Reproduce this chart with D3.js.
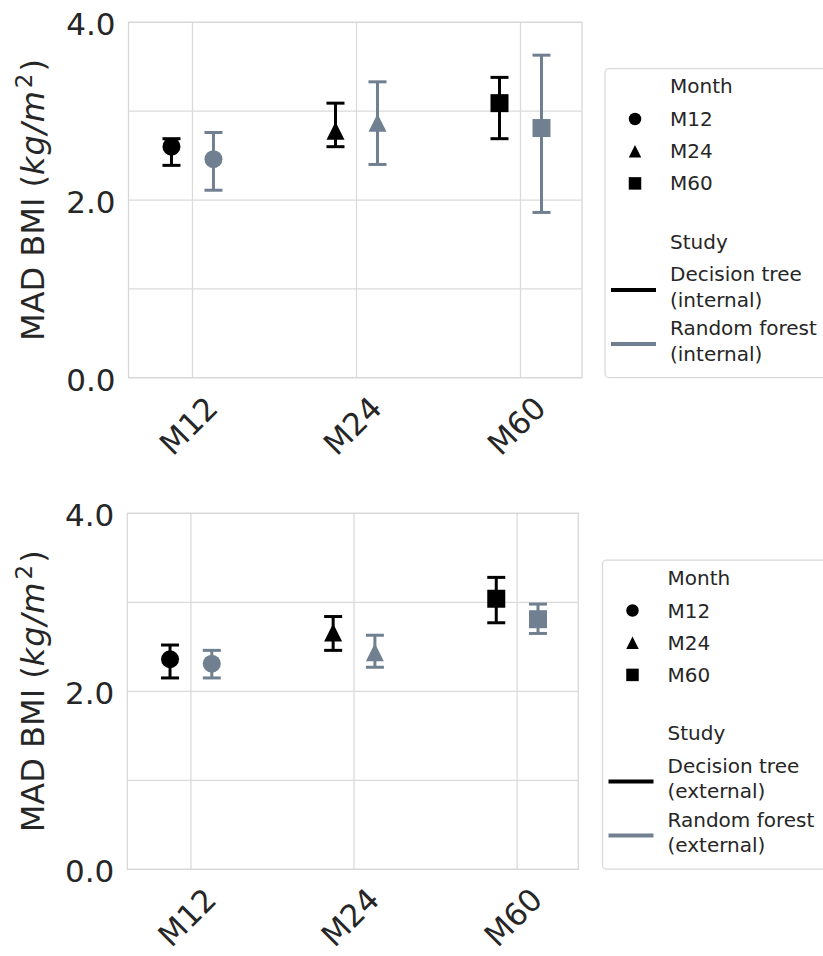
<!DOCTYPE html>
<html>
<head>
<meta charset="utf-8">
<script src="https://cdn.jsdelivr.net/npm/d3@7"></script>
<style>
  body { margin: 0; background: #fff; }
  text { font-family: "DejaVu Sans", sans-serif; fill: #262626; }
</style>
</head>
<body>
<div id="chart"></div>
<script>
// ---- data ----
const months = ["M12", "M24", "M60"];
const yTicks = [0, 2, 4];
const yGrid = [0, 1, 2, 3, 4];
const studies = ["Decision tree", "Random forest"];
const studyColors = ["#000000", "#708090"];

// internal validation
const treeInternalMean = [2.60, 2.78, 3.09];
const treeInternalLow  = [2.39, 2.60, 2.69];
const treeInternalHigh = [2.69, 3.09, 3.38];
const forestInternalMean = [2.46, 2.87, 2.81];
const forestInternalLow  = [2.11, 2.40, 1.86];
const forestInternalHigh = [2.76, 3.33, 3.63];

// external validation
const treeExternalMean = [2.36, 2.66, 3.04];
const treeExternalLow  = [2.15, 2.46, 2.77];
const treeExternalHigh = [2.52, 2.84, 3.28];
const forestExternalMean = [2.31, 2.44, 2.81];
const forestExternalLow  = [2.15, 2.27, 2.65];
const forestExternalHigh = [2.46, 2.63, 2.98];

// matplotlib-like markers
const triangleUp = {
  draw(ctx, size) {
    const r = Math.sqrt(size) / 2;
    ctx.moveTo(0, -r); ctx.lineTo(r, r); ctx.lineTo(-r, r); ctx.closePath();
  }
};
const markerTypes = { M12: d3.symbolCircle, M24: triangleUp, M60: d3.symbolSquare };
function markerArea(month, s) {
  return month === "M12" ? Math.PI * (s / 2) * (s / 2) : s * s;
}

const svg = d3.select("#chart").append("svg")
    .attr("width", 823)
    .attr("height", 956);

class PointPanel {

  constructor(_config) {
    this.config = _config;
    this.initVis();
  }

  initVis() {
    let vis = this;
    let c = vis.config;

    vis.g = svg.append("g");

    vis.xScale = d3.scaleLinear()
        .domain([-0.39, 2.375])
        .range([c.left, c.right]);
    vis.yScale = d3.scaleLinear()
        .domain([0, 4])
        .range([c.bottom, c.top]);

    // grid
    vis.g.append("g").selectAll("line.h")
      .data(yGrid).join("line")
        .attr("x1", c.left).attr("x2", c.right)
        .attr("y1", d => vis.yScale(d)).attr("y2", d => vis.yScale(d))
        .attr("stroke", "#dadada").attr("stroke-width", 1.25);
    vis.g.append("g").selectAll("line.v")
      .data(months).join("line")
        .attr("x1", (d, i) => vis.xScale(i)).attr("x2", (d, i) => vis.xScale(i))
        .attr("y1", c.top).attr("y2", c.bottom)
        .attr("stroke", "#dadada").attr("stroke-width", 1.25);

    vis.g.append("rect")
        .attr("x", c.left).attr("y", c.top)
        .attr("width", c.right - c.left).attr("height", c.bottom - c.top)
        .attr("fill", "none").attr("stroke", "#d6d6d6").attr("stroke-width", 1.25);

    // y axis labels
    vis.g.append("g").selectAll("text")
      .data(yTicks).join("text")
        .attr("x", c.left - 13)
        .attr("y", d => vis.yScale(d) + 2)
        .attr("text-anchor", "end")
        .attr("dominant-baseline", "central")
        .attr("font-size", 31)
        .text(d => d3.format(".1f")(d));

    // x axis labels, rotated
    vis.g.append("g").selectAll("text")
      .data(months).join("text")
        .attr("transform", (d, i) => "translate(" + (vis.xScale(i) - 4) + "," + (c.bottom + 48) + ") rotate(-45)")
        .attr("text-anchor", "middle")
        .attr("dominant-baseline", "central")
        .attr("font-size", 31)
        .text(d => d);

    // y title
    let title = vis.g.append("text")
        .attr("transform", "translate(44," + ((c.top + c.bottom) / 2) + ") rotate(-90)")
        .attr("text-anchor", "middle")
        .attr("font-size", 32);
    title.append("tspan").text("MAD BMI (");
    title.append("tspan").attr("font-style", "italic").attr("letter-spacing", 1).text("kg/m");
    title.append("tspan").attr("font-size", 23).attr("dx", 2).attr("dy", -12).text("2");
    title.append("tspan").attr("dx", 2).attr("dy", 12).text(")");

    vis.updateVis();
    vis.drawLegend();
  }

  updateVis() {
    let vis = this;
    let rows = [];
    vis.config.series.forEach((s, si) => {
      months.forEach((m, i) => {
        rows.push({ month: m, i: i, mean: s.mean[i], low: s.low[i], high: s.high[i],
                    color: studyColors[si], dodge: si === 0 ? -0.128 : 0.128 });
      });
    });

    let pts = vis.g.append("g").selectAll("g.pt")
      .data(rows).join("g")
        .attr("class", "pt");

    pts.append("line")
        .attr("x1", d => vis.xScale(d.i + d.dodge)).attr("x2", d => vis.xScale(d.i + d.dodge))
        .attr("y1", d => vis.yScale(d.low)).attr("y2", d => vis.yScale(d.high))
        .attr("stroke", d => d.color).attr("stroke-width", 3);

    ["low", "high"].forEach(k => {
      pts.append("line")
          .attr("x1", d => vis.xScale(d.i + d.dodge) - 9).attr("x2", d => vis.xScale(d.i + d.dodge) + 9)
          .attr("y1", d => vis.yScale(d[k])).attr("y2", d => vis.yScale(d[k]))
          .attr("stroke", d => d.color).attr("stroke-width", 3);
    });

    pts.append("path")
        .attr("transform", d => "translate(" + vis.xScale(d.i + d.dodge) + "," + vis.yScale(d.mean) + ")")
        .attr("d", d => d3.symbol(markerTypes[d.month], markerArea(d.month, 18))())
        .attr("fill", d => d.color);
  }

  drawLegend() {
    let vis = this;
    let c = vis.config;
    let lg = vis.g.append("g").attr("transform", "translate(" + c.legendX + "," + c.legendY + ")");

    lg.append("rect")
        .attr("x", 0).attr("y", 0)
        .attr("width", 260).attr("height", 309)
        .attr("rx", 4)
        .attr("fill", "#fff").attr("stroke", "#d9d9d9").attr("stroke-width", 1.25);

    lg.append("text").attr("x", 65).attr("y", 24.5).attr("font-size", 20).text("Month");

    let mItems = lg.selectAll("g.m").data(months).join("g")
        .attr("transform", (d, i) => "translate(0," + (57.5 + i * 32.2) + ")");
    mItems.append("path")
        .attr("transform", "translate(30,-7)")
        .attr("d", d => d3.symbol(markerTypes[d], markerArea(d, 12.5))())
        .attr("fill", "#000");
    mItems.append("text").attr("x", 65).attr("font-size", 20).text(d => d);

    lg.append("text").attr("x", 65).attr("y", 180).attr("font-size", 20).text("Study");

    let sItems = lg.selectAll("g.s").data(studies).join("g")
        .attr("transform", (d, i) => "translate(0," + (212.5 + i * 54) + ")");
    sItems.append("line")
        .attr("x1", 6).attr("x2", 51).attr("y1", 9).attr("y2", 9)
        .attr("stroke", (d, i) => studyColors[i]).attr("stroke-width", 4);
    sItems.append("text").attr("x", 65).attr("font-size", 20).text(d => d);
    sItems.append("text").attr("x", 65).attr("y", 25.5).attr("font-size", 20).text("(" + c.kind + ")");
  }
}

new PointPanel({
  left: 128.5, right: 582, top: 22.3, bottom: 377.7,
  legendX: 605, legendY: 68.5, kind: "internal",
  series: [
    { mean: treeInternalMean, low: treeInternalLow, high: treeInternalHigh },
    { mean: forestInternalMean, low: forestInternalLow, high: forestInternalHigh }
  ]
});

new PointPanel({
  left: 127.3, right: 578.3, top: 513.3, bottom: 869.3,
  legendX: 602.5, legendY: 560, kind: "external",
  series: [
    { mean: treeExternalMean, low: treeExternalLow, high: treeExternalHigh },
    { mean: forestExternalMean, low: forestExternalLow, high: forestExternalHigh }
  ]
});
</script>
</body>
</html>
